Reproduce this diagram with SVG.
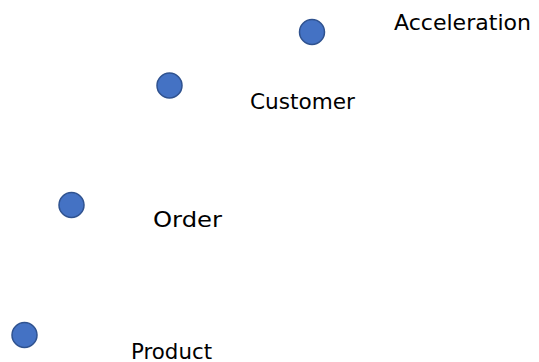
<svg xmlns="http://www.w3.org/2000/svg" width="539" height="362" viewBox="0 0 539 362">
  <style>
    .dot { fill: #4472C4; stroke: #2F528F; stroke-width: 1.5; }
    .lbl { font-family: "DejaVu Sans", "Liberation Sans", sans-serif; font-size: 22px; fill: #000; }
  </style>
  <rect width="539" height="362" fill="#fff"/>
  <g id="connectors"/>
  <g id="acceleration">
    <circle class="dot" cx="312" cy="32" r="12.5"/>
    <text class="lbl" x="394" y="30" textLength="137" lengthAdjust="spacingAndGlyphs">Acceleration</text>
  </g>
  <g id="customer">
    <circle class="dot" cx="169.5" cy="85.5" r="12.5"/>
    <text class="lbl" x="250" y="109" textLength="105" lengthAdjust="spacingAndGlyphs">Customer</text>
  </g>
  <g id="order">
    <circle class="dot" cx="71.5" cy="205" r="12.5"/>
    <text class="lbl" x="153" y="227" textLength="69" lengthAdjust="spacingAndGlyphs">Order</text>
  </g>
  <g id="product">
    <circle class="dot" cx="24.5" cy="335" r="12.5"/>
    <text class="lbl" x="131" y="358.5" textLength="81" lengthAdjust="spacingAndGlyphs">Product</text>
  </g>
</svg>
